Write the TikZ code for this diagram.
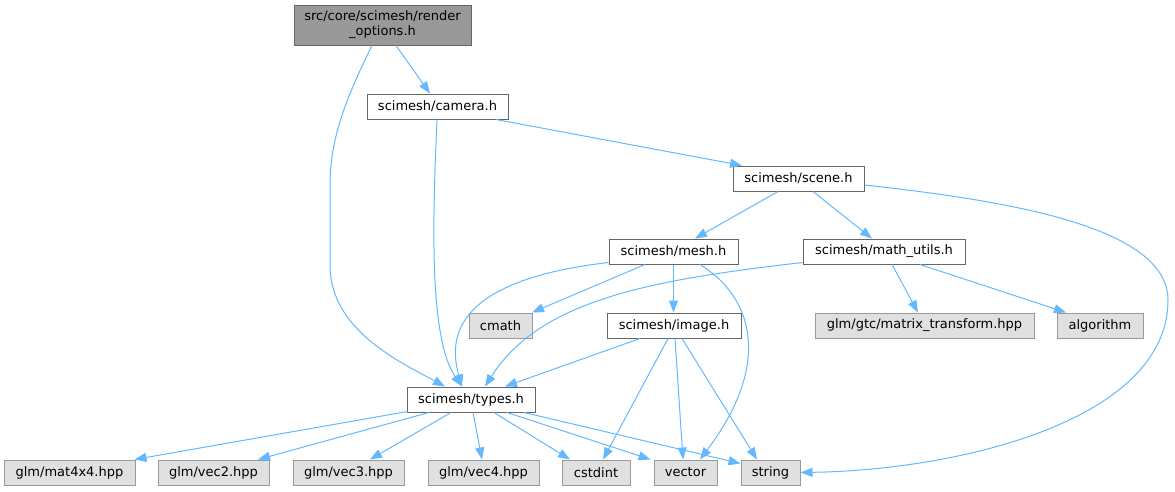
\documentclass[tikz,border=0pt]{standalone}
\usepackage{fontspec}
\setmainfont{DejaVu Sans}
\usetikzlibrary{arrows.meta}
\definecolor{edgec}{HTML}{63B8FF}
\definecolor{bdark}{HTML}{666666}
\definecolor{blight}{HTML}{999999}
\definecolor{fgray}{HTML}{E0E0E0}
\definecolor{froot}{HTML}{999999}
\tikzset{
  box/.style={draw=bdark, fill=white, line width=1pt, inner sep=0pt, minimum height=25pt,
    font=\fontsize{13}{15}\selectfont, align=center},
  extbox/.style={box, draw=blight, fill=fgray},
  rootbox/.style={box, draw=bdark, fill=froot, minimum height=40pt},
  dep/.style={draw=edgec, line width=1pt, -{Triangle[length=12pt,width=9pt]}},
}
\begin{document}
\begin{tikzpicture}[x=1pt,y=-1pt]
\useasboundingbox (0,0) rectangle (1175,491);
% nodes
\node[rootbox, minimum width=177pt] (ro) at (382.5,25) {src/core/scimesh/render\\\_options.h};
\node[box, minimum width=141pt] (camera) at (437.5,106.5) {scimesh/camera.h};
\node[box, minimum width=131pt] (scene) at (798.5,178.5) {scimesh/scene.h};
\node[box, minimum width=129pt] (mesh) at (673.5,251.5) {scimesh/mesh.h};
\node[box, minimum width=162pt] (math) at (884,251.5) {scimesh/math\_utils.h};
\node[extbox, minimum width=63pt] (cmath) at (500.5,325.5) {cmath};
\node[box, minimum width=134pt] (image) at (674,325.5) {scimesh/image.h};
\node[extbox, minimum width=219pt] (mtx) at (924.5,325.5) {glm/gtc/matrix\_transform.hpp};
\node[extbox, minimum width=86pt] (algo) at (1100,325.5) {algorithm};
\node[box, minimum width=128pt] (types) at (471,399.5) {scimesh/types.h};
\node[extbox, minimum width=131pt] (mat) at (69.5,472.5) {glm/mat4x4.hpp};
\node[extbox, minimum width=111pt] (vec2) at (213.5,472.5) {glm/vec2.hpp};
\node[extbox, minimum width=111pt] (vec3) at (348.5,472.5) {glm/vec3.hpp};
\node[extbox, minimum width=111pt] (vec4) at (483.5,472.5) {glm/vec4.hpp};
\node[extbox, minimum width=68pt] (cstdint) at (596,472.5) {cstdint};
\node[extbox, minimum width=63pt] (vector) at (685.5,472.5) {vector};
\node[extbox, minimum width=59pt] (string) at (770.5,472.5) {string};
% edges
\draw[dep] ([xshift=13.5pt]ro.south) -- ([xshift=-7.5pt]camera.north);
\draw[dep] ([xshift=-10.5pt]ro.south) .. controls (345,100) and (330,140) .. (330,185)
   -- (330,265) .. controls (330,330) and (400,362) .. ([xshift=-26pt]types.north);
\draw[dep] ([xshift=-0.5pt]camera.south) .. controls (432,230) and (430,340) .. ([xshift=-9pt]types.north);
\draw[dep] ([xshift=58.5pt]camera.south) -- ([xshift=-56.5pt]scene.north);
\draw[dep] ([xshift=-20.5pt]scene.south) -- ([xshift=21.5pt]mesh.north);
\draw[dep] ([xshift=14.5pt]scene.south) -- ([xshift=-12pt]math.north);
\draw[dep] ([yshift=-6.5pt]scene.east) .. controls (1000,200) and (1168,225) .. (1168,300)
   .. controls (1168,420) and (960,470) .. (string.east);
\draw[dep] ([yshift=-11pt]mesh.west) .. controls (500,275) and (440,310) .. ([xshift=-9pt]types.north);
\draw[dep] ([xshift=-28.5pt]mesh.south) -- ([xshift=31.5pt]cmath.north);
\draw[dep] (mesh.south) -- ([xshift=-0.5pt]image.north);
\draw[dep] ([xshift=26.5pt]mesh.south) .. controls (750,295) and (775,360) .. ([xshift=14.5pt]vector.north);
\draw[dep] ([yshift=-11pt]math.west) .. controls (650,280) and (540,300) .. ([xshift=14pt]types.north);
\draw[dep] ([xshift=8pt]math.south) -- ([xshift=-6.5pt]mtx.north);
\draw[dep] ([xshift=36pt]math.south) -- ([xshift=-34pt]algo.north);
\draw[dep] ([xshift=-34pt]image.south) -- ([xshift=34pt]types.north);
\draw[dep] ([xshift=-6pt]image.south) -- ([xshift=7pt]cstdint.north);
\draw[dep] ([xshift=1pt]image.south) -- ([xshift=-2.5pt]vector.north);
\draw[dep] ([xshift=8pt]image.south) -- ([xshift=-13.5pt]string.north);
\draw[dep] ([xshift=1pt,yshift=1pt]types.south west) -- ([xshift=-1pt]mat.north east);
\draw[dep] ([xshift=-42pt]types.south) -- ([xshift=44.5pt]vec2.north);
\draw[dep] ([xshift=-20pt]types.south) -- ([xshift=21.5pt]vec3.north);
\draw[dep] ([xshift=2pt]types.south) -- ([xshift=-1.5pt]vec4.north);
\draw[dep] ([xshift=23pt]types.south) -- ([xshift=-26pt]cstdint.north);
\draw[dep] ([xshift=36pt]types.south) -- ([xshift=-35pt]vector.north);
\draw[dep] ([xshift=53pt]types.south) -- ([yshift=-4pt]string.north west);
\end{tikzpicture}
\end{document}
